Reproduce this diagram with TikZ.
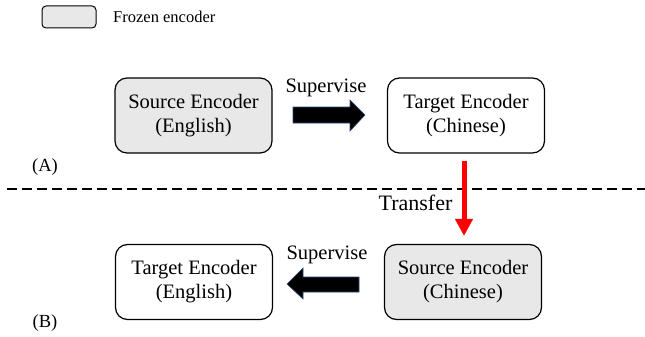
\documentclass[tikz,border=0pt]{standalone}
\usepackage{fontspec}
\setmainfont{Liberation Serif}
\usetikzlibrary{arrows.meta}
\definecolor{frozen}{HTML}{E8E8E8}
\definecolor{arrowedge}{HTML}{2F4A7A}
\tikzset{
  enc/.style={draw=black, line width=1.2pt, rounded corners=12pt, minimum width=157pt, minimum height=75pt, align=center, font=\fontsize{20.5}{24}\selectfont, inner sep=0pt},
  frz/.style={enc, fill=frozen},
  lbl/.style={font=\fontsize{20.5}{24}\selectfont, inner sep=0pt},
  tag/.style={font=\fontsize{18.5}{22}\selectfont, inner sep=0pt},
  blockarrow/.style={fill=black, draw=arrowedge, line width=0.6pt},
}
\begin{document}
\begin{tikzpicture}[x=1pt,y=-1pt]
\useasboundingbox (0,0) rectangle (645,337);
% legend
\node[draw=black, line width=1pt, fill=frozen, rounded corners=4pt, minimum width=54pt, minimum height=22pt, inner sep=0pt] (leg) at (69,17) {};
\node[font=\fontsize{16.5}{20}\selectfont, anchor=west, inner sep=0pt] (legt) at (113,17) {Frozen encoder};
% (A)
\node[frz] (se) at (193.5,115.5) {Source Encoder\\(English)};
\node[enc] (tc) at (466,115.5) {Target Encoder\\(Chinese)};
\node[lbl] (sup1) at (326,88) {Supervise};
\fill[blockarrow] (293,107) -- (350,107) -- (350,100) -- (365,115) -- (350,131) -- (350,123) -- (293,123) -- cycle;
\node[tag] (la) at (45,167) {(A)};
% divider
\coordinate (dl) at (7,189);
\coordinate (dr) at (645,189);
\draw[line width=2pt, dash pattern=on 10pt off 5pt] (dl) -- (dr);
% (B)
\node[enc] (te) at (194,282) {Target Encoder\\(English)};
\node[frz] (sc) at (463,282) {Source Encoder\\(Chinese)};
\node[lbl] (sup2) at (327,255) {Supervise};
\fill[blockarrow] (359,277) -- (303,277) -- (303,268) -- (287,284) -- (303,299) -- (303,292) -- (359,292) -- cycle;
\node[tag] (lb) at (45,323) {(B)};
% transfer
\draw[red, line width=5pt, -{Triangle[length=17pt,width=17pt]}] ([xshift=-2pt,yshift=-7pt]tc.south) -- ([xshift=1pt,yshift=8pt]sc.north);
\node[font=\fontsize{22}{26}\selectfont, inner sep=0pt] (tr) at (415.5,203) {Transfer};
\end{tikzpicture}
\end{document}
